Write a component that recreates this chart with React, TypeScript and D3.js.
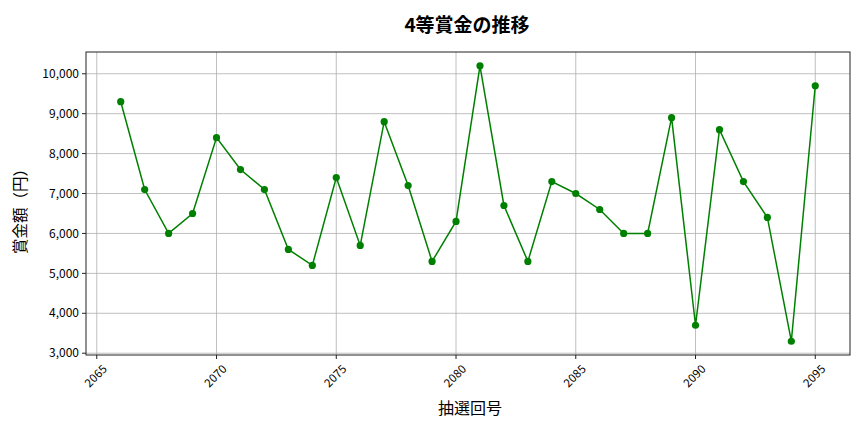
import React from 'react';
import * as d3 from 'd3';

const draws = [
  2066, 2067, 2068, 2069, 2070, 2071, 2072, 2073, 2074, 2075,
  2076, 2077, 2078, 2079, 2080, 2081, 2082, 2083, 2084, 2085,
  2086, 2087, 2088, 2089, 2090, 2091, 2092, 2093, 2094, 2095,
];
const prizes = [
  9300, 7100, 6000, 6500, 8400, 7600, 7100, 5600, 5200, 7400,
  5700, 8800, 7200, 5300, 6300, 10200, 6700, 5300, 7300, 7000,
  6600, 6000, 6000, 8900, 3700, 8600, 7300, 6400, 3300, 9700,
];
const xTicks = [2065, 2070, 2075, 2080, 2085, 2090, 2095];
const yTicks = [3000, 4000, 5000, 6000, 7000, 8000, 9000, 10000];

const FONT = '"Noto Sans CJK JP", "Noto Sans", sans-serif';

export default function App() {
  const width = 864;
  const height = 432;
  const margin = { top: 52, right: 14, bottom: 77, left: 86 };
  const innerW = width - margin.left - margin.right;
  const innerH = height - margin.top - margin.bottom;

  const data = draws.map((d, i) => ({ x: d, y: prizes[i] }));

  // matplotlib-style 5% padding
  const xPad = (d3.max(draws)! - d3.min(draws)!) * 0.05;
  const yPad = (d3.max(prizes)! - d3.min(prizes)!) * 0.05;
  const x = d3.scaleLinear().domain([d3.min(draws)! - xPad, d3.max(draws)! + xPad]).range([0, innerW]);
  const y = d3.scaleLinear().domain([d3.min(prizes)! - yPad, d3.max(prizes)! + yPad]).range([innerH, 0]);

  const line = d3.line<{ x: number; y: number }>().x((d) => x(d.x)).y((d) => y(d.y));
  const fmt = d3.format(',');

  return (
    <svg width={width} height={height} style={{ position: 'absolute', left: 0, top: 0, background: '#fff' }} fontFamily={FONT}>
      <text x={467} y={32} textAnchor="middle" fontSize={19} fontWeight="bold" fill="#000">
        4等賞金の推移
      </text>
      <g transform={`translate(${margin.left},${margin.top})`}>
        {/* grid */}
        {xTicks.map((t) => (
          <line key={`gx${t}`} x1={x(t)} x2={x(t)} y1={0} y2={innerH} stroke="#b0b0b0" strokeWidth={0.8} />
        ))}
        {yTicks.map((t) => (
          <line key={`gy${t}`} x1={0} x2={innerW} y1={y(t)} y2={y(t)} stroke="#b0b0b0" strokeWidth={0.8} />
        ))}

        <path d={line(data) || undefined} fill="none" stroke="#008000" strokeWidth={1.5} />
        {data.map((d, i) => (
          <circle key={i} cx={x(d.x)} cy={y(d.y)} r={3.6} fill="#008000" />
        ))}

        <rect x={0} y={0} width={innerW} height={innerH} fill="none" stroke="#222" strokeWidth={1} />

        {/* x ticks */}
        {xTicks.map((t) => (
          <g key={`xt${t}`} transform={`translate(${x(t)},${innerH})`}>
            <line y1={0} y2={4} stroke="#222" />
            <text
              transform="translate(-1,21) rotate(-45)"
              textAnchor="middle"
              dy="0.35em"
              fontSize={11.5}
              fill="#000"
            >
              {t}
            </text>
          </g>
        ))}
        {/* y ticks */}
        {yTicks.map((t) => (
          <g key={`yt${t}`} transform={`translate(0,${y(t)})`}>
            <line x1={-4} x2={0} stroke="#222" />
            <text x={-7} dy="0.35em" textAnchor="end" fontSize={12} fill="#000">
              {fmt(t)}
            </text>
          </g>
        ))}
      </g>
      <text x={470} y={414} textAnchor="middle" fontSize={16} fill="#000">
        抽選回号
      </text>
      <text transform={`translate(26,${margin.top + innerH / 2 + 4}) rotate(-90)`} textAnchor="middle" fontSize={15.5} fill="#000">
        賞金額（円）
      </text>
    </svg>
  );
}
